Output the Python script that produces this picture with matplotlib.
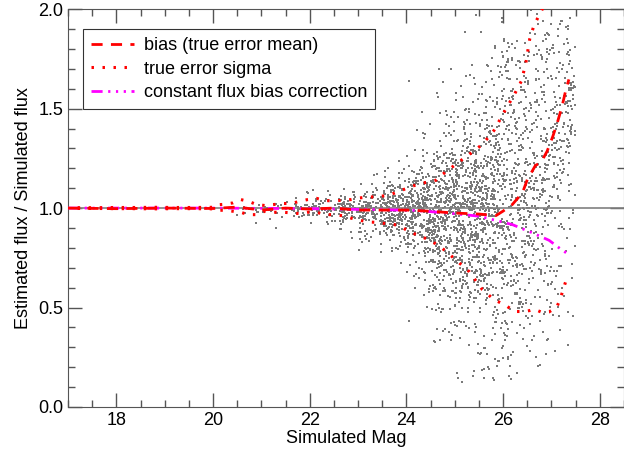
import numpy as np
import matplotlib.pyplot as plt
from matplotlib.ticker import MultipleLocator

plt.rcParams['font.family'] = ['Liberation Sans', 'DejaVu Sans']

# bias (true error mean)
bias_mag = [17.0, 18.0, 19.0, 20.0, 20.5, 21.0, 21.5, 22.0, 22.5, 23.0, 23.5, 24.0,
            24.5, 25.0, 25.5, 25.85, 26.0, 26.19, 26.40, 26.50, 26.67, 26.78, 26.91,
            27.03, 27.13, 27.22, 27.30, 27.36]
bias_val = [1.0, 0.997, 1.0, 0.998, 1.005, 0.99, 1.0, 0.995, 1.0, 0.99, 0.99, 0.99,
            0.984, 0.975, 0.97, 0.962, 0.985, 1.018, 1.077, 1.143, 1.215, 1.228, 1.286,
            1.362, 1.437, 1.513, 1.597, 1.647]

# bias + sigma
upper_mag = [17.2, 17.6, 18.0, 18.4, 18.8, 19.2, 19.6, 20.0, 20.06, 20.23, 20.41, 20.57,
             20.73, 20.90, 21.07, 21.26, 21.44, 21.62, 21.79, 21.96, 22.14, 22.31, 22.48,
             22.67, 22.86, 23.03, 23.22, 23.40, 23.57, 23.75, 23.91, 24.08, 24.25, 24.42,
             24.61, 24.75, 25.02, 25.30, 25.57, 25.81, 26.06, 26.23, 26.38, 26.47, 26.55,
             26.64, 26.81, 26.95]
upper_val = [1.002, 1.002, 1.003, 1.003, 1.004, 1.003, 1.003, 1.004, 1.016, 1.019, 1.026,
             1.043, 1.034, 1.018, 1.013, 1.018, 1.023, 1.023, 1.034, 1.043, 1.049, 1.038,
             1.036, 1.039, 1.043, 1.051, 1.056, 1.056, 1.063, 1.075, 1.09, 1.107, 1.12,
             1.13, 1.14, 1.17, 1.22, 1.27, 1.32, 1.39, 1.50, 1.57, 1.64, 1.73, 1.85, 1.92,
             2.0, 2.1]

# bias - sigma
lower_mag = [17.2, 17.6, 18.0, 18.4, 18.8, 19.2, 19.6, 20.0, 20.06, 20.23, 20.41, 20.57,
             20.73, 20.90, 21.07, 21.26, 21.44, 21.62, 21.79, 21.96, 22.14, 22.31, 22.48,
             22.67, 22.86, 23.03, 23.22, 23.40, 23.57, 23.75, 23.91, 24.08, 24.25, 24.42,
             24.61, 24.75, 25.02, 25.30, 25.57, 25.81, 26.06, 26.23, 26.38, 26.47, 26.55,
             26.64, 26.81, 26.95, 27.11, 27.18, 27.23, 27.28, 27.33]
lower_val = [0.998, 0.998, 0.997, 0.997, 0.996, 0.997, 0.997, 0.996, 0.989, 0.989, 0.984,
             0.979, 0.967, 0.967, 0.984, 0.979, 0.979, 0.976, 0.972, 0.979, 0.979, 0.967,
             0.967, 0.962, 0.949, 0.939, 0.93, 0.928, 0.922, 0.917, 0.903, 0.878, 0.863,
             0.845, 0.82, 0.796, 0.74, 0.68, 0.59, 0.54, 0.51, 0.48, 0.48, 0.48, 0.485,
             0.492, 0.475, 0.478, 0.502, 0.543, 0.581, 0.62, 0.656]

# constant flux bias correction
corr_mag = [17.0, 20.0, 22.0, 23.44, 24.12, 24.82, 25.51, 26.19, 26.61, 26.95, 27.19, 27.33]
corr_val = [1.0, 1.0, 0.997, 0.992, 0.989, 0.976, 0.959, 0.917, 0.875, 0.838, 0.794, 0.771]

# scatter cloud, per 0.5 mag bin: number of points and spread above / below the bias
cloud_lo = [20.5, 21.0, 21.5, 22.0, 22.5, 23.0, 23.5, 24.0, 24.5, 25.0, 25.5, 26.0, 26.5, 27.0]
cloud_n = [12, 20, 30, 50, 80, 130, 200, 300, 400, 450, 430, 380, 330, 260]
cloud_up = [0.02, 0.02, 0.03, 0.035, 0.04, 0.05, 0.07, 0.11, 0.16, 0.24, 0.35, 0.55, 0.75, 0.85]
cloud_dn = [0.02, 0.02, 0.025, 0.03, 0.04, 0.06, 0.08, 0.13, 0.19, 0.28, 0.38, 0.42, 0.42, 0.42]

rng = np.random.default_rng(7)
centres = np.array(cloud_lo) + 0.25
xs, ys = [], []
for lo, n in zip(cloud_lo, cloud_n):
    m = rng.uniform(lo, lo + 0.5, n)
    su = np.interp(m, centres, cloud_up)
    sd = np.interp(m, centres, cloud_dn)
    z = rng.standard_t(5, n)
    b = np.interp(m, bias_mag, bias_val)
    r = b + np.where(z > 0, z * su, z * sd)
    keep = r > 0.12
    xs.append(m[keep])
    ys.append(r[keep])
xs = np.concatenate(xs)
ys = np.concatenate(ys)

fig = plt.figure(figsize=(6.24, 4.5), dpi=100)
ax = fig.add_axes([0.109, 0.0956, 0.891, 0.884])

ax.scatter(xs, ys, s=1.0, c='#7a7a7a', marker='s', linewidths=0, zorder=1)
ax.axhline(1.0, color='#808080', lw=1.2, zorder=2)

ax.plot(bias_mag, bias_val, color='red', lw=2.0, ls=(0, (4, 3)), zorder=4,
        label='bias (true error mean)')
ax.plot(upper_mag, upper_val, color='red', lw=2.2, ls=(0, (0.8, 2.8)), zorder=4,
        label='true error sigma')
ax.plot(lower_mag, lower_val, color='red', lw=2.2, ls=(0, (0.8, 2.8)), zorder=4)
ax.plot(corr_mag, corr_val, color='magenta', lw=2.0, ls=(0, (4, 2, 0.8, 2, 0.8, 2, 0.8, 2)),
        zorder=3, label='constant flux bias correction')

ax.set_xlim(17, 28.5)
ax.set_ylim(0, 2)
ax.xaxis.set_major_locator(MultipleLocator(2))
ax.xaxis.set_minor_locator(MultipleLocator(0.5))
ax.yaxis.set_major_locator(MultipleLocator(0.5))
ax.yaxis.set_minor_locator(MultipleLocator(0.1))
ax.yaxis.set_major_formatter(plt.FormatStrFormatter('%.1f'))
ax.tick_params(which='both', direction='in', top=True, right=True, labelsize=13,
               color='#555555')
ax.tick_params(which='major', length=10, width=1)
ax.tick_params(which='minor', length=5, width=1)
for sp in ax.spines.values():
    sp.set_color('#555555')

ax.set_xlabel('Simulated Mag', fontsize=13, labelpad=1)
ax.set_ylabel('Estimated flux / Simulated flux', fontsize=13, labelpad=4)

leg = ax.legend(loc='upper left', bbox_to_anchor=(0.027, 0.95), fontsize=13,
                fancybox=False, edgecolor='black', handlelength=2.4,
                borderpad=0.45, labelspacing=0.35, handletextpad=0.5, borderaxespad=0)
leg.get_frame().set_linewidth(0.8)

fig.savefig('out.png', dpi=100)
